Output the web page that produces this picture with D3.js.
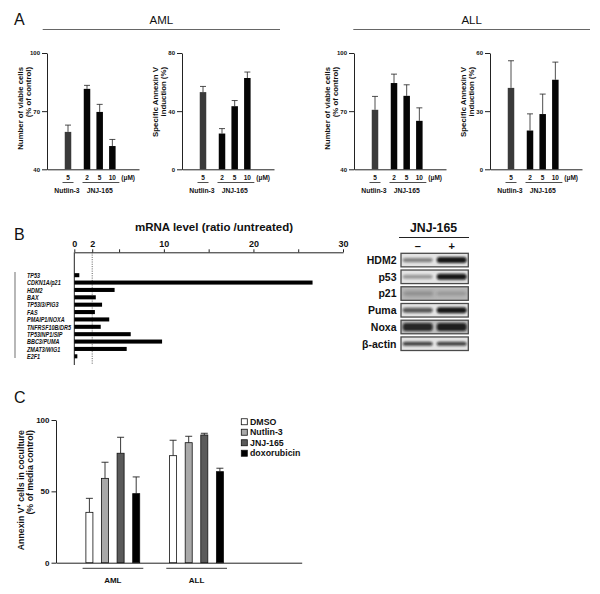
<!DOCTYPE html>
<html><head><meta charset="utf-8">
<script src="https://cdn.jsdelivr.net/npm/d3@7"></script>
<style>
body{margin:0;background:#fff}
svg{display:block}
text{font-family:"Liberation Sans",Arial,Helvetica,sans-serif;fill:#111}
</style>
</head><body><svg id="c" width="600" height="594"></svg>
<script>
// ---------- DATA ----------
// Panel A
const doseLabels = ["5","2","5","10"];
const drugGroups = ["Nutlin-3","JNJ-165"];
const viableTicks = [40,70,100];
const amlAnnexinTicks = [0,40,80];
const allAnnexinTicks = [0,30,60];
const amlViable = [59.3, 81.5, 69.6, 52.0];
const amlViableErr = [62.8, 83.3, 73.5, 55.4];
const amlAnnexin = [53.1, 24.6, 43.4, 62.8];
const amlAnnexinErr = [57.0, 28.0, 47.3, 66.9];
const allViable = [70.7, 84.5, 77.9, 65.0];
const allViableErr = [77.6, 89.1, 83.6, 71.7];
const allAnnexin = [42.0, 20.0, 28.5, 46.2];
const allAnnexinErr = [56.0, 28.6, 38.8, 55.3];
// Panel B
const genes = ["TP53","CDKN1A/p21","HDM2","BAX","TP53I3/PIG3","FAS","PMAIP1/NOXA","TNFRSF10B/DR5","TP53INP1/SIP","BBC3/PUMA","ZMAT3/WIG1","E2F1"];
const mrnaRatio = [0.56, 26.6, 4.5, 2.4, 3.1, 2.3, 3.9, 2.95, 6.3, 9.8, 5.85, 0.34];
const mrnaTicks = [0,2,5,10,15,20,25,30];
const mrnaTickLabels = [0,2,10,20,30];
const blotProteins = ["HDM2","p53","p21","Puma","Noxa","β-actin"];
const blotLanes = ["–","+"];
const bandMinus = [0.45, 0.35, 0.12, 0.65, 0.85, 0.75];
const bandPlus  = [0.95, 0.95, 0.12, 0.95, 0.9, 0.75];
// Panel C
const cGroups = ["AML","ALL"];
const cSeries = ["DMSO","Nutlin-3","JNJ-165","doxorubicin"];
const cTicks = [0,50,100];
const cAML = [35.3, 59.1, 76.7, 48.4];
const cAMLErr = [45.1, 70.4, 87.9, 60.1];
const cALL = [75.0, 84.1, 89.5, 63.8];
const cALLErr = [85.8, 88.6, 90.7, 66.2];
const cColors = ["#ffffff","#a9a9a9","#5a5a5a","#000000"];

// ---------- DRAW ----------
const svg = d3.select("#c");
function styleAxis(g, fs){
  g.selectAll("path.domain").attr("stroke","#222").attr("stroke-width",1);
  g.selectAll(".tick line").attr("stroke","#222").attr("stroke-width",1);
  g.selectAll(".tick text").attr("font-size",fs).attr("font-weight","bold").attr("fill","#111")
    .attr("font-family",'"Liberation Sans",Arial,sans-serif');
}

// Panel letters & headers
svg.append("text").attr("x",14).attr("y",25).attr("font-size",16).text("A");
svg.append("text").attr("x",14).attr("y",239.5).attr("font-size",16).text("B");
svg.append("text").attr("x",14).attr("y",403).attr("font-size",16).text("C");
[["AML",42.7,280],["ALL",353.3,590]].forEach(([t,x0,x1])=>{
  svg.append("text").attr("x",(x0+x1)/2).attr("y",24).attr("text-anchor","middle").attr("font-size",11.5).text(t);
  svg.append("line").attr("x1",x0).attr("x2",x1).attr("y1",29.5).attr("y2",29.5).attr("stroke","#666").attr("stroke-width",1);
});

// Panel A
const panelA = [
  {ax:47,  dom:[40,100], ticks:viableTicks,     vals:amlViable,  err:amlViableErr,  lab:["Number of viable cells","(% of control)"]},
  {ax:182, dom:[0,80],   ticks:amlAnnexinTicks, vals:amlAnnexin, err:amlAnnexinErr, lab:["Specific Annexin V","induction (%)"]},
  {ax:354, dom:[40,100], ticks:viableTicks,     vals:allViable,  err:allViableErr,  lab:["Number of viable cells","(% of control)"]},
  {ax:490, dom:[0,60],   ticks:allAnnexinTicks, vals:allAnnexin, err:allAnnexinErr, lab:["Specific Annexin V","induction (%)"]}
];
const slot = i => i===0 ? 0 : i+0.5;
panelA.forEach(p=>{
  const g = svg.append("g");
  const y = d3.scaleLinear().domain(p.dom).range([169.3,53]);
  const x = d3.scaleLinear().domain([-21/12.67,(92-21)/12.67]).range([p.ax,p.ax+92]);
  const ya = g.append("g").attr("transform",`translate(${p.ax},0)`)
    .call(d3.axisLeft(y).tickValues(p.ticks).tickSize(5).tickSizeOuter(0).tickPadding(2));
  styleAxis(ya,6);
  const xa = g.append("g").attr("transform",`translate(0,${y.range()[0]})`)
    .call(d3.axisBottom(x).tickValues([]).tickSizeOuter(0));
  styleAxis(xa,6);
  const bw = 6.5;
  p.vals.forEach((v,i)=>{
    const cx = x(slot(i));
    g.append("line").attr("x1",cx).attr("x2",cx).attr("y1",y(v)).attr("y2",y(p.err[i])).attr("stroke","#222").attr("stroke-width",0.8);
    g.append("line").attr("x1",cx-3).attr("x2",cx+3).attr("y1",y(p.err[i])).attr("y2",y(p.err[i])).attr("stroke","#222").attr("stroke-width",0.8);
    g.append("rect").attr("x",cx-bw/2).attr("width",bw).attr("y",y(v)).attr("height",y(p.dom[0])-y(v))
      .attr("fill", i===0 ? "#3a3a3a" : "#050505");
    g.append("text").attr("x",cx).attr("y",179.5).attr("text-anchor","middle").attr("font-size",6.5).attr("font-weight","bold").text(doseLabels[i]);
  });
  g.append("text").attr("x",x(4.75)).attr("y",179.5).attr("text-anchor","middle").attr("font-size",6.5).attr("font-weight","bold").text("(μM)");
  // group lines
  g.append("line").attr("x1",x(0)-5.5).attr("x2",x(0)+5.5).attr("y1",182.5).attr("y2",182.5).attr("stroke","#222").attr("stroke-width",0.8);
  g.append("line").attr("x1",x(1.5)-4.5).attr("x2",x(3.5)+7).attr("y1",182.5).attr("y2",182.5).attr("stroke","#222").attr("stroke-width",0.8);
  g.append("text").attr("x",x(0)-1).attr("y",193).attr("text-anchor","middle").attr("font-size",6.8).attr("font-weight","bold").text(drugGroups[0]);
  g.append("text").attr("x",x(2.5)).attr("y",193).attr("text-anchor","middle").attr("font-size",6.8).attr("font-weight","bold").text(drugGroups[1]);
  // y label
  p.lab.forEach((t,k)=>{
    const lx = p.ax + (k===0 ? -27 : -18.5);
    g.append("text").attr("transform",`translate(${lx},67) rotate(-90)`)
      .attr("text-anchor","end").attr("dy","0.35em").attr("font-size",7.8).attr("font-weight","bold").text(t);
  });
});

// Panel B - mRNA
const gB = svg.append("g");
const xB = d3.scaleLinear().domain([0,30]).range([74.3,343]);
const yB = d3.scaleBand().domain(genes).range([271.5,360]).paddingInner(0.45).paddingOuter(0.225);
gB.append("text").attr("x",214).attr("y",231).attr("text-anchor","middle").attr("font-size",11.5).attr("font-weight","bold").text("mRNA level (ratio /untreated)");
const xBa = gB.append("g").attr("transform","translate(0,252.3)")
  .call(d3.axisTop(xB).tickValues(mrnaTicks).tickSize(3).tickSizeOuter(0).tickPadding(2)
    .tickFormat(d=> mrnaTickLabels.includes(d) ? d : ""));
styleAxis(xBa,9);
gB.append("line").attr("x1",xB(0)).attr("x2",xB(0)).attr("y1",252.3).attr("y2",365).attr("stroke","#222").attr("stroke-width",1);
gB.append("line").attr("x1",xB(2)).attr("x2",xB(2)).attr("y1",252.3).attr("y2",365).attr("stroke","#333").attr("stroke-width",0.8).attr("stroke-dasharray","1,1.3");
gB.selectAll("rect.bar").data(genes).enter().append("rect").attr("class","bar")
  .attr("x",xB(0)).attr("y",d=>yB(d)).attr("height",yB.bandwidth())
  .attr("width",(d,i)=>xB(mrnaRatio[i])-xB(0)).attr("fill","#000");
gB.append("line").attr("x1",15).attr("x2",15).attr("y1",272).attr("y2",358).attr("stroke","#888").attr("stroke-width",1.2);
genes.forEach(d=>{
  gB.append("text").attr("transform",`translate(27,${yB(d)+yB.bandwidth()/2}) scale(0.72,1)`)
    .attr("dy","0.36em").attr("font-size",7.6).attr("font-style","italic").attr("font-weight","bold").text(d);
});

// Western blot
const defs = svg.append("defs");
defs.append("filter").attr("id","blur").attr("x","-30%").attr("y","-100%").attr("width","160%").attr("height","300%")
  .append("feGaussianBlur").attr("stdDeviation","1.3,0.9");
defs.append("filter").attr("id","noise").append("feGaussianBlur").attr("stdDeviation",2);
const gW = svg.append("g");
gW.append("text").attr("x",433.5).attr("y",231.5).attr("text-anchor","middle").attr("font-size",12.3).attr("font-weight","bold").text("JNJ-165");
gW.append("line").attr("x1",399).attr("x2",469).attr("y1",237.5).attr("y2",237.5).attr("stroke","#222").attr("stroke-width",1);
const xW = d3.scalePoint().domain(blotLanes).range([417.7,451.7]);
const yW = d3.scaleBand().domain(blotProteins).range([253.3,350.5]).paddingInner(0.19).paddingOuter(0);
blotLanes.forEach(l=>{
  gW.append("text").attr("x",xW(l)).attr("y",249.5).attr("text-anchor","middle").attr("font-size",11).attr("font-weight","bold").text(l);
});
blotProteins.forEach((p,i)=>{
  const y0 = yW(p), h = yW.bandwidth();
  gW.append("rect").attr("x",401).attr("y",y0).attr("width",67.3).attr("height",h)
    .attr("fill", p==="p21" ? "#b9b9b9" : (p==="Noxa" ? "#bdbdbd" : "#e4e4e4"));
  if(p==="p21"){
    gW.append("rect").attr("x",404).attr("y",y0+3).attr("width",30).attr("height",h-6).attr("fill","#888").attr("opacity",0.5).attr("filter","url(#noise)");
    gW.append("rect").attr("x",436).attr("y",y0+3).attr("width",30).attr("height",h-6).attr("fill","#999").attr("opacity",0.45).attr("filter","url(#noise)");
  }
  [bandMinus[i],bandPlus[i]].forEach((v,k)=>{
    const cx = xW(blotLanes[k]);
    const bh = (p==="Noxa") ? h*0.6 : (p==="β-actin" ? h*0.3 : h*(0.2+0.25*v));
    gW.append("rect").attr("x",cx-15).attr("width",30).attr("y",y0+h/2-bh/2).attr("height",bh)
      .attr("rx",3).attr("fill","#0a0a0a").attr("opacity",v).attr("filter","url(#blur)");
  });
  gW.append("rect").attr("x",401).attr("y",y0).attr("width",67.3).attr("height",h)
    .attr("fill","none").attr("stroke","#4a4a4a").attr("stroke-width",1.3);
  gW.append("text").attr("x",396.5).attr("y",y0+h/2).attr("dy","0.36em").attr("text-anchor","end")
    .attr("font-size",10.5).attr("font-weight","bold").text(p);
});

// Panel C
const gC = svg.append("g");
const yC = d3.scaleLinear().domain([0,100]).range([562.7,420]);
const xG = d3.scalePoint().domain(cGroups).range([112.8,196.5]);
const xS = d3.scaleBand().domain(cSeries).range([-31.2,31.2]).paddingInner(0.55).paddingOuter(0.275);
const yCa = gC.append("g").attr("transform","translate(56,0)")
  .call(d3.axisLeft(yC).tickValues(cTicks).tickSize(4.5).tickSizeOuter(0).tickPadding(2));
styleAxis(yCa,8);
const xCa = gC.append("g").attr("transform",`translate(0,${yC(0)})`)
  .call(d3.axisBottom(d3.scaleLinear().range([56,301.7])).tickValues([]).tickSizeOuter(0));
styleAxis(xCa,8);
[[cAML,cAMLErr],[cALL,cALLErr]].forEach(([vals,errs],gi)=>{
  const gx = xG(cGroups[gi]);
  vals.forEach((v,i)=>{
    const x0 = gx + xS(cSeries[i]), bw = xS.bandwidth(), cx = x0+bw/2;
    gC.append("line").attr("x1",cx).attr("x2",cx).attr("y1",yC(v)).attr("y2",yC(errs[i])).attr("stroke","#222").attr("stroke-width",0.9);
    gC.append("line").attr("x1",cx-3.5).attr("x2",cx+3.5).attr("y1",yC(errs[i])).attr("y2",yC(errs[i])).attr("stroke","#222").attr("stroke-width",0.9);
    gC.append("rect").attr("x",x0).attr("width",bw).attr("y",yC(v)).attr("height",yC(0)-yC(v))
      .attr("fill",cColors[i]).attr("stroke","#111").attr("stroke-width",0.8);
  });
  gC.append("line").attr("x1",gx-30.2).attr("x2",gx+30.5).attr("y1",568.3).attr("y2",568.3).attr("stroke","#222").attr("stroke-width",0.9);
  gC.append("text").attr("x",gx).attr("y",583).attr("text-anchor","middle").attr("font-size",8).attr("font-weight","bold").text(cGroups[gi]);
});
// legend
const lg = d3.scaleBand().domain(cSeries).range([416.5,458.5]);
cSeries.forEach((s,i)=>{
  const yc = lg(s)+lg.bandwidth()/2;
  gC.append("rect").attr("x",241.3).attr("y",yc-3).attr("width",6).attr("height",6).attr("fill",cColors[i]).attr("stroke","#111").attr("stroke-width",0.8);
  gC.append("text").attr("x",250).attr("y",yc).attr("dy","0.36em").attr("font-size",8.8).attr("font-weight","bold").text(s);
});
// y label C
[["Annexin V","⁺"," cells in coculture"],["(% of media control)"]].forEach((parts,k)=>{
  const t = gC.append("text").attr("transform",`translate(${k===0?21:30},430) rotate(-90)`)
    .attr("text-anchor","end").attr("dy","0.35em").attr("font-size",8.8).attr("font-weight","bold");
  parts.forEach(pt=> t.append("tspan").text(pt));
});
</script>
</body></html>
